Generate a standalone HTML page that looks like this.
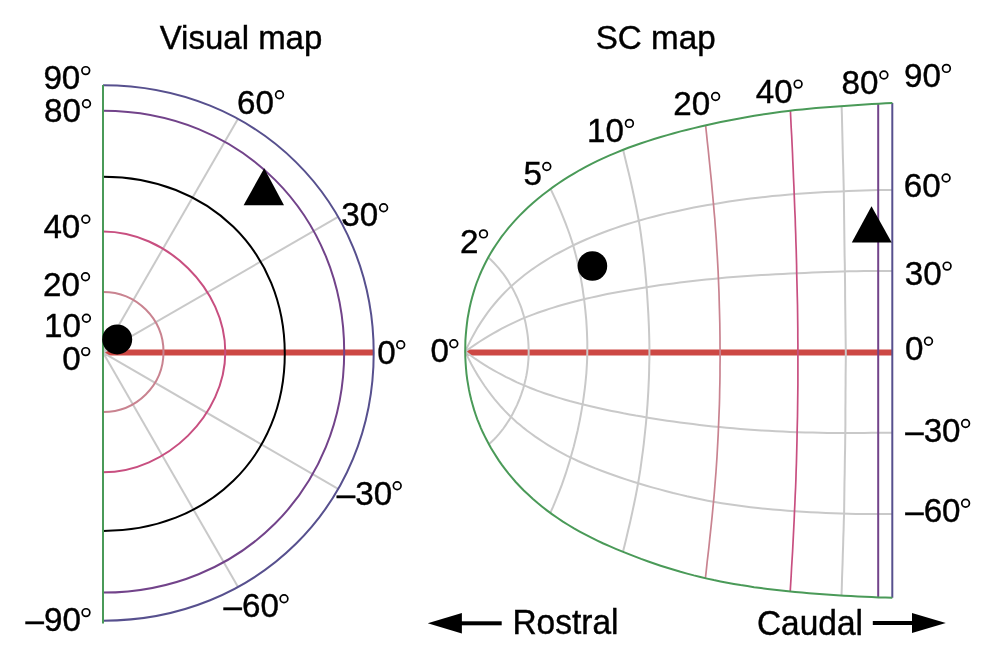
<!DOCTYPE html>
<html><head><meta charset="utf-8"><style>
html,body{margin:0;padding:0;background:#fff;}
svg{display:block;will-change:transform;}
text{font-family:"Liberation Sans",sans-serif;font-size:32px;fill:#000;stroke:#000;stroke-width:0.4px;}
</style></head><body>
<svg width="992" height="656" viewBox="0 0 992 656">
<rect width="992" height="656" fill="#fff"/>
<line x1="103" y1="352.6" x2="373.6" y2="352.6" stroke="#cd4844" stroke-width="6"/>
<line x1="103" y1="352.6" x2="338.1" y2="216.9" stroke="#c9c9c9" stroke-width="2"/>
<line x1="103" y1="352.6" x2="237.9" y2="118.9" stroke="#c9c9c9" stroke-width="2"/>
<line x1="103" y1="352.6" x2="338.1" y2="488.8" stroke="#c9c9c9" stroke-width="2"/>
<line x1="103" y1="352.6" x2="237.9" y2="586.8" stroke="#c9c9c9" stroke-width="2"/>
<path d="M103 292.00 C136.41 292.00 163.50 318.86 163.50 352.00 C163.50 385.14 136.41 412.00 103 412.00" stroke="#c98390" stroke-width="2" fill="none"/>
<path d="M103 231.50 C166.74 231.50 225.30 289.15 225.30 351.90 C225.30 414.65 166.74 472.30 103 472.30" stroke="#c84f80" stroke-width="2" fill="none"/>
<path d="M103 176.70 C208.24 176.70 284.80 251.28 284.80 353.80 C284.80 456.32 208.24 530.90 103 530.90" stroke="#000" stroke-width="2" fill="none"/>
<path d="M103 110.80 C240.22 110.80 344.20 214.65 344.20 351.70 C344.20 488.75 240.22 592.60 103 592.60" stroke="#72438a" stroke-width="2" fill="none"/>
<path d="M103 85.20 C256.60 85.20 373.70 201.03 373.70 352.95 C373.70 504.87 256.60 620.70 103 620.70" stroke="#57508e" stroke-width="2" fill="none"/>
<line x1="103" y1="85" x2="103" y2="623.5" stroke="#4a9a58" stroke-width="2"/>
<circle cx="117.2" cy="339.4" r="15" fill="#000"/>
<path d="M264.2 168.2 L243.6 205.2 L284 205.2 Z" fill="#000"/>
<line x1="465.3" y1="352.4" x2="892.3" y2="352.4" stroke="#cd4844" stroke-width="6"/>
<path d="M465.2 351.6 L470.2 348.0 L475.1 344.6 L479.8 341.5 L484.4 338.6 L488.9 335.9 L493.2 333.3 L497.5 331.0 L501.6 328.7 L505.6 326.6 L509.6 324.7 L513.4 322.8 L517.1 321.1 L520.8 319.4 L524.3 317.9 L527.5 316.6 L530.8 315.4 L534.2 314.1 L537.7 312.8 L541.4 311.5 L545.3 310.2 L549.2 308.9 L553.3 307.6 L557.6 306.3 L561.9 305.0 L566.5 303.7 L571.1 302.5 L575.9 301.2 L580.8 300.0 L585.8 298.8 L591.0 297.6 L596.3 296.4 L601.7 295.3 L607.2 294.1 L612.8 293.0 L618.4 292.0 L624.2 290.9 L630.1 289.9 L636.0 288.9 L642.1 287.9 L648.2 287.0 L654.4 286.0 L660.6 285.1 L666.9 284.3 L673.3 283.4 L679.8 282.6 L686.3 281.8 L692.8 281.0 L699.4 280.3 L706.1 279.6 L712.8 278.9 L719.6 278.2 L726.4 277.6 L733.3 277.1 L740.2 276.6 L747.2 276.1 L754.2 275.6 L761.3 275.1 L768.4 274.7 L775.6 274.3 L782.8 273.9 L790.1 273.5 L797.4 273.2 L804.8 272.9 L812.2 272.5 L819.6 272.3 L827.1 272.0 L834.5 271.7 L842.0 271.5 L849.3 271.3 L856.6 271.2 L863.9 271.1 L871.2 271.0 L878.5 270.9 L892.3 270.9" stroke="#c9c9c9" stroke-width="2" fill="none"/>
<path d="M465.2 351.6 L468.2 345.2 L471.2 339.1 L474.4 333.2 L477.6 327.6 L480.9 322.4 L484.3 317.4 L487.6 312.7 L491.0 308.2 L494.4 304.0 L497.8 300.0 L501.2 296.3 L504.5 292.7 L507.9 289.4 L511.2 286.2 L514.3 283.5 L517.5 280.7 L520.9 277.9 L524.5 275.0 L528.2 272.2 L532.2 269.3 L536.3 266.5 L540.6 263.6 L545.0 260.8 L549.6 258.0 L554.4 255.2 L559.4 252.5 L564.5 249.8 L569.7 247.1 L575.0 244.5 L580.4 242.0 L586.0 239.5 L591.6 237.1 L597.4 234.8 L603.2 232.5 L609.2 230.3 L615.3 228.1 L621.4 226.0 L627.7 224.0 L634.0 222.1 L640.4 220.2 L646.9 218.4 L653.4 216.7 L660.0 215.0 L666.6 213.4 L673.3 211.9 L680.1 210.4 L686.9 209.0 L693.8 207.6 L700.7 206.3 L707.7 205.1 L714.7 203.9 L721.8 202.7 L728.9 201.6 L736.0 200.6 L743.2 199.6 L750.5 198.6 L757.8 197.7 L765.1 196.9 L772.4 196.1 L779.9 195.4 L787.3 194.7 L794.8 194.1 L802.4 193.5 L810.1 193.0 L817.7 192.5 L825.4 192.1 L833.1 191.7 L840.7 191.4 L848.3 191.1 L855.8 190.8 L863.3 190.6 L870.8 190.3 L878.3 190.1 L892.3 190.1" stroke="#c9c9c9" stroke-width="2" fill="none"/>
<path d="M465.2 351.6 L470.3 355.3 L475.1 358.7 L479.9 361.9 L484.5 364.8 L489.0 367.6 L493.3 370.1 L497.6 372.5 L501.7 374.7 L505.7 376.8 L509.6 378.7 L513.3 380.5 L517.0 382.3 L520.6 383.9 L524.1 385.4 L527.2 386.7 L530.4 388.0 L533.7 389.3 L537.1 390.6 L540.7 391.9 L544.4 393.2 L548.3 394.5 L552.3 395.8 L556.4 397.1 L560.7 398.4 L565.1 399.7 L569.7 401.0 L574.4 402.2 L579.3 403.5 L584.3 404.7 L589.5 406.0 L594.9 407.3 L600.4 408.5 L606.0 409.7 L611.7 410.9 L617.6 412.1 L623.5 413.3 L629.6 414.4 L635.7 415.6 L641.9 416.6 L648.1 417.7 L654.4 418.7 L660.7 419.7 L667.1 420.7 L673.5 421.6 L679.9 422.5 L686.4 423.3 L693.0 424.1 L699.6 424.9 L706.2 425.7 L712.9 426.4 L719.7 427.1 L726.5 427.7 L733.4 428.3 L740.4 428.9 L747.4 429.4 L754.4 429.9 L761.5 430.4 L768.7 430.8 L775.9 431.2 L783.1 431.6 L790.4 431.9 L797.8 432.2 L805.2 432.4 L812.6 432.6 L820.1 432.8 L827.5 432.9 L835.0 433.0 L842.4 433.0 L849.7 433.0 L856.9 433.0 L864.2 432.9 L871.4 432.8 L878.6 432.7 L892.3 432.7" stroke="#c9c9c9" stroke-width="2" fill="none"/>
<path d="M465.2 351.6 L468.3 358.1 L471.4 364.2 L474.6 370.1 L477.9 375.6 L481.2 380.8 L484.5 385.8 L487.9 390.5 L491.2 394.9 L494.5 399.1 L497.9 403.1 L501.1 406.8 L504.4 410.4 L507.7 413.7 L510.9 416.9 L513.8 419.6 L516.9 422.4 L520.2 425.1 L523.6 427.9 L527.2 430.7 L531.0 433.5 L534.9 436.4 L539.0 439.2 L543.3 442.0 L547.7 444.8 L552.3 447.6 L557.1 450.4 L562.1 453.1 L567.2 455.8 L572.5 458.4 L578.0 461.0 L583.7 463.5 L589.5 466.0 L595.4 468.4 L601.5 470.7 L607.6 473.0 L613.9 475.3 L620.3 477.5 L626.7 479.6 L633.3 481.7 L639.8 483.7 L646.4 485.7 L653.0 487.6 L659.7 489.4 L666.4 491.2 L673.2 493.0 L680.0 494.6 L686.8 496.3 L693.7 497.8 L700.7 499.3 L707.7 500.7 L714.7 502.0 L721.8 503.2 L729.0 504.3 L736.2 505.3 L743.4 506.3 L750.6 507.2 L758.0 508.0 L765.3 508.8 L772.7 509.5 L780.2 510.1 L787.6 510.7 L795.2 511.3 L802.8 511.8 L810.4 512.2 L818.1 512.6 L825.8 513.0 L833.4 513.3 L841.0 513.5 L848.6 513.7 L856.1 513.9 L863.5 514.0 L870.9 514.0 L878.4 514.1 L892.3 514.1" stroke="#c9c9c9" stroke-width="2" fill="none"/>
<path d="M488.9 444.2 L491.6 441.7 L494.2 439.2 L496.7 436.6 L499.1 433.9 L501.3 431.2 L503.4 428.5 L505.4 425.6 L507.3 422.8 L509.2 419.9 L510.9 416.9 L512.6 413.9 L514.2 410.8 L515.7 407.8 L517.2 404.6 L518.5 401.5 L519.8 398.3 L521.0 395.1 L522.1 391.9 L523.2 388.6 L524.1 385.4 L524.9 382.1 L525.7 378.8 L526.4 375.5 L527.0 372.1 L527.5 368.8 L527.9 365.5 L528.2 362.1 L528.5 358.7 L528.6 355.3 L528.7 351.9 L528.6 348.5 L528.5 345.1 L528.3 341.7 L528.0 338.2 L527.6 334.8 L527.1 331.4 L526.5 328.0 L525.9 324.6 L525.2 321.3 L524.3 317.9 L523.4 314.6 L522.4 311.4 L521.4 308.1 L520.2 304.9 L518.9 301.8 L517.6 298.6 L516.1 295.5 L514.6 292.4 L513.0 289.3 L511.2 286.2 L509.4 283.2 L507.6 280.1 L505.6 277.1 L503.5 274.2 L501.2 271.3 L498.9 268.4 L496.4 265.6 L493.8 262.8 L491.1 260.1 L488.2 257.5" stroke="#c9c9c9" stroke-width="2" fill="none"/>
<path d="M550.3 512.9 L552.9 507.1 L555.3 501.4 L557.6 495.7 L559.8 490.1 L561.9 484.6 L563.8 479.1 L565.7 473.7 L567.4 468.3 L569.1 462.9 L570.7 457.5 L572.2 452.1 L573.7 446.8 L575.0 441.4 L576.3 436.1 L577.6 430.8 L578.7 425.4 L579.8 420.1 L580.8 414.8 L581.7 409.6 L582.6 404.3 L583.4 399.1 L584.1 393.8 L584.8 388.6 L585.4 383.4 L585.9 378.2 L586.4 373.0 L586.7 367.8 L587.0 362.6 L587.2 357.4 L587.3 352.1 L587.3 346.9 L587.3 341.6 L587.1 336.3 L586.9 331.0 L586.6 325.8 L586.3 320.5 L585.8 315.1 L585.3 309.8 L584.7 304.5 L584.1 299.2 L583.3 293.9 L582.6 288.5 L581.7 283.2 L580.8 277.8 L579.7 272.5 L578.6 267.1 L577.4 261.7 L576.1 256.3 L574.7 250.9 L573.2 245.4 L571.5 240.0 L569.7 234.5 L567.7 229.0 L565.6 223.4 L563.4 217.8 L561.1 212.2 L558.7 206.5 L556.1 200.7 L553.4 194.8 L550.6 188.9" stroke="#c9c9c9" stroke-width="2" fill="none"/>
<path d="M623.0 551.8 L624.8 544.6 L626.5 537.5 L628.1 530.5 L629.8 523.6 L631.3 516.7 L632.8 509.9 L634.2 503.2 L635.6 496.5 L636.9 489.8 L638.1 483.2 L639.2 476.6 L640.3 469.9 L641.2 463.3 L642.1 456.7 L643.0 450.2 L643.8 443.6 L644.5 437.0 L645.2 430.5 L645.9 424.0 L646.5 417.4 L647.0 410.9 L647.5 404.4 L647.9 397.9 L648.3 391.4 L648.6 384.9 L648.9 378.4 L649.1 371.9 L649.2 365.4 L649.4 358.9 L649.4 352.4 L649.4 345.9 L649.3 339.4 L649.1 332.9 L648.9 326.4 L648.6 319.9 L648.3 313.4 L647.9 306.8 L647.5 300.3 L647.1 293.8 L646.6 287.2 L646.1 280.6 L645.5 274.1 L644.9 267.5 L644.2 260.8 L643.5 254.2 L642.7 247.6 L641.8 240.9 L640.9 234.2 L639.9 227.4 L638.8 220.7 L637.5 213.9 L636.2 207.1 L634.8 200.2 L633.3 193.2 L631.8 186.2 L630.2 179.1 L628.5 172.0 L626.7 164.7 L624.9 157.3 L623.1 149.8" stroke="#c9c9c9" stroke-width="2" fill="none"/>
<path d="M841.5 595.5 L841.8 587.3 L842.0 579.0 L842.3 570.8 L842.6 562.6 L842.8 554.4 L843.1 546.2 L843.3 538.0 L843.6 529.9 L843.8 521.8 L844.1 513.6 L844.2 505.5 L844.3 497.4 L844.4 489.3 L844.5 481.2 L844.7 473.2 L844.8 465.1 L844.9 457.1 L845.1 449.1 L845.2 441.1 L845.3 433.1 L845.4 425.0 L845.4 417.0 L845.4 408.9 L845.5 400.8 L845.5 392.8 L845.6 384.7 L845.6 376.6 L845.7 368.6 L845.8 360.5 L845.8 352.4 L845.7 344.3 L845.6 336.2 L845.5 328.1 L845.4 319.9 L845.3 311.8 L845.2 303.7 L845.1 295.6 L845.1 287.5 L845.0 279.5 L844.9 271.4 L844.8 263.5 L844.6 255.5 L844.5 247.6 L844.4 239.7 L844.3 231.7 L844.2 223.7 L844.1 215.7 L844.0 207.6 L843.9 199.5 L843.8 191.3 L843.6 183.0 L843.4 174.6 L843.2 166.2 L842.9 157.7 L842.7 149.2 L842.5 140.6 L842.3 132.0 L842.1 123.4 L841.9 114.8 L841.6 106.2" stroke="#c9c9c9" stroke-width="2" fill="none"/>
<path d="M705.4 578.2 L706.3 570.3 L707.1 562.5 L708.0 554.8 L708.9 547.1 L709.7 539.4 L710.5 531.8 L711.3 524.3 L712.1 516.7 L712.8 509.2 L713.5 501.8 L714.2 494.3 L714.8 486.8 L715.4 479.3 L716.0 471.8 L716.5 464.3 L717.0 456.8 L717.4 449.3 L717.8 441.9 L718.2 434.4 L718.5 427.0 L718.8 419.5 L719.1 412.1 L719.4 404.6 L719.6 397.1 L719.7 389.7 L719.9 382.2 L720.0 374.8 L720.0 367.3 L720.1 359.9 L720.1 352.5 L720.0 345.0 L720.0 337.6 L719.9 330.2 L719.8 322.8 L719.6 315.4 L719.4 307.9 L719.2 300.5 L719.0 293.1 L718.7 285.7 L718.4 278.3 L718.1 271.0 L717.7 263.6 L717.3 256.2 L716.8 248.9 L716.4 241.5 L715.9 234.1 L715.3 226.6 L714.8 219.1 L714.1 211.6 L713.5 204.1 L712.8 196.5 L712.1 188.8 L711.4 181.1 L710.6 173.3 L709.8 165.5 L709.0 157.6 L708.2 149.7 L707.3 141.7 L706.5 133.6 L705.6 125.4" stroke="#c98390" stroke-width="1.7" fill="none"/>
<path d="M790.2 591.5 L790.7 583.4 L791.2 575.3 L791.6 567.2 L792.1 559.2 L792.6 551.1 L793.0 543.1 L793.4 535.1 L793.8 527.1 L794.2 519.2 L794.5 511.2 L794.9 503.3 L795.2 495.4 L795.6 487.5 L795.9 479.6 L796.1 471.7 L796.4 463.8 L796.6 455.9 L796.8 448.0 L797.0 440.1 L797.1 432.2 L797.3 424.2 L797.5 416.3 L797.6 408.3 L797.7 400.3 L797.8 392.4 L797.9 384.4 L797.9 376.4 L797.9 368.4 L797.9 360.4 L797.9 352.5 L797.9 344.5 L797.8 336.5 L797.8 328.6 L797.7 320.6 L797.6 312.7 L797.5 304.8 L797.3 296.9 L797.1 289.0 L796.9 281.1 L796.7 273.2 L796.6 265.4 L796.4 257.5 L796.2 249.7 L795.9 241.8 L795.7 234.0 L795.4 226.1 L795.2 218.2 L794.8 210.2 L794.5 202.2 L794.2 194.1 L793.9 186.0 L793.5 177.8 L793.2 169.6 L792.8 161.3 L792.5 153.0 L792.1 144.6 L791.7 136.1 L791.2 127.7 L790.8 119.2 L790.4 110.6" stroke="#c84f80" stroke-width="1.7" fill="none"/>
<line x1="878.2" y1="103.3" x2="878.2" y2="597.7" stroke="#72438a" stroke-width="2"/>
<line x1="892.3" y1="102.9" x2="892.3" y2="597.7" stroke="#57508e" stroke-width="2"/>
<path d="M892.4 103.0 L885.6 103.3 L878.8 103.7 L871.9 104.1 L865.0 104.5 L858.0 105.0 L851.1 105.5 L844.1 106.0 L837.1 106.5 L830.1 107.0 L823.1 107.6 L816.1 108.1 L809.1 108.7 L802.2 109.4 L795.2 110.1 L788.3 110.9 L781.4 111.8 L774.6 112.7 L767.8 113.7 L761.0 114.7 L754.3 115.8 L747.5 117.0 L740.8 118.2 L734.1 119.4 L727.4 120.8 L720.7 122.1 L714.0 123.5 L707.3 125.0 L700.6 126.5 L693.9 128.1 L687.3 129.7 L680.6 131.4 L673.9 133.2 L667.3 135.1 L660.7 137.0 L654.1 139.0 L647.6 141.1 L641.1 143.2 L634.7 145.5 L628.3 147.8 L622.0 150.3 L615.7 152.8 L609.6 155.4 L603.5 158.1 L597.5 160.9 L591.5 163.8 L585.7 166.9 L579.9 170.0 L574.3 173.3 L568.7 176.7 L563.2 180.1 L557.8 183.7 L552.6 187.4 L547.5 191.2 L542.5 195.0 L537.6 199.0 L532.9 203.0 L528.4 207.1 L524.0 211.2 L519.8 215.4 L515.8 219.6 L512.0 223.9 L508.3 228.2 L504.9 232.5 L501.6 236.7 L498.6 241.0 L495.7 245.2 L493.0 249.4 L490.5 253.5 L488.2 257.5 L486.1 261.5 L484.1 265.5 L482.1 269.7 L480.2 274.0 L478.4 278.5 L476.6 283.0 L475.0 287.7 L473.5 292.6 L472.1 297.5 L470.8 302.6 L469.6 307.7 L468.6 313.0 L467.6 318.3 L466.9 323.8 L466.3 329.3 L465.8 334.8 L465.4 340.4 L465.3 346.0 L465.2 351.6 L465.3 357.2 L465.6 362.8 L466.0 368.3 L466.5 373.8 L467.2 379.3 L468.1 384.6 L469.0 389.9 L470.1 395.1 L471.3 400.1 L472.7 405.1 L474.1 409.9 L475.7 414.7 L477.3 419.3 L479.1 423.7 L480.9 428.1 L482.8 432.3 L484.8 436.4 L486.8 440.3 L488.9 444.2 L491.1 448.2 L493.6 452.3 L496.2 456.4 L498.9 460.6 L501.9 464.9 L505.1 469.1 L508.4 473.4 L512.0 477.7 L515.7 482.0 L519.7 486.2 L523.8 490.5 L528.2 494.6 L532.7 498.8 L537.4 502.8 L542.2 506.7 L547.2 510.6 L552.3 514.4 L557.6 518.0 L562.9 521.6 L568.4 525.0 L574.0 528.4 L579.7 531.6 L585.5 534.7 L591.4 537.7 L597.3 540.6 L603.4 543.5 L609.5 546.2 L615.7 548.8 L621.9 551.4 L628.2 553.9 L634.6 556.4 L641.1 558.9 L647.6 561.2 L654.1 563.5 L660.6 565.7 L667.2 567.8 L673.8 569.8 L680.5 571.8 L687.1 573.6 L693.8 575.4 L700.4 577.0 L707.1 578.6 L713.8 580.1 L720.5 581.4 L727.2 582.7 L733.9 583.9 L740.6 585.1 L747.3 586.1 L754.1 587.2 L760.9 588.1 L767.6 589.0 L774.5 589.8 L781.3 590.6 L788.2 591.3 L795.1 592.0 L802.0 592.6 L809.0 593.2 L816.0 593.8 L823.0 594.3 L830.0 594.8 L837.0 595.2 L844.0 595.7 L850.9 596.1 L857.9 596.4 L864.8 596.8 L871.7 597.1 L878.6 597.4 L885.5 597.6 L892.3 597.8" stroke="#4a9a58" stroke-width="2" fill="none"/>
<circle cx="592.4" cy="266" r="14.8" fill="#000"/>
<path d="M871.5 206.2 L851.8 242.5 L891.7 242.5 Z" fill="#000"/>
<path d="M427.7 623.3 L461.9 613 L461.9 633.6 Z" fill="#000"/>
<rect x="460" y="621.3" width="41.7" height="4" fill="#000"/>
<path d="M945.8 623 L912 613 L912 633.1 Z" fill="#000"/>
<rect x="872.8" y="621" width="41" height="4" fill="#000"/>
<text transform="translate(159.7 48.7) scale(1 1.025)" style="font-size:33px">Visual map</text>
<text transform="translate(595.7 49.2) scale(1 1.025)" style="font-size:33.2px">SC map</text>
<text x="43.4" y="89.3" style="font-size:33.2px">90</text>
<circle cx="85.75" cy="70.60" r="3.85" stroke="#000" stroke-width="1.7" fill="none"/>
<text x="44.1" y="122.4" style="font-size:33.2px">80</text>
<circle cx="86.50" cy="103.70" r="3.85" stroke="#000" stroke-width="1.7" fill="none"/>
<text x="43.4" y="238.0" style="font-size:33.2px">40</text>
<circle cx="85.80" cy="219.30" r="3.85" stroke="#000" stroke-width="1.7" fill="none"/>
<text x="43.1" y="295.5" style="font-size:33.2px">20</text>
<circle cx="85.50" cy="276.80" r="3.85" stroke="#000" stroke-width="1.7" fill="none"/>
<text x="44.0" y="337.0" style="font-size:33.2px">10</text>
<circle cx="86.40" cy="318.30" r="3.85" stroke="#000" stroke-width="1.7" fill="none"/>
<text x="62.3" y="370.3" style="font-size:33.2px">0</text>
<circle cx="85.70" cy="351.60" r="3.85" stroke="#000" stroke-width="1.7" fill="none"/>
<text x="25.6" y="631.3" style="font-size:33.2px">–90</text>
<circle cx="86.00" cy="612.60" r="3.85" stroke="#000" stroke-width="1.7" fill="none"/>
<text x="237.1" y="113.5" style="font-size:33.2px">60</text>
<circle cx="279.50" cy="94.80" r="3.85" stroke="#000" stroke-width="1.7" fill="none"/>
<text x="341.2" y="226.4" style="font-size:33.2px">30</text>
<circle cx="383.60" cy="207.70" r="3.85" stroke="#000" stroke-width="1.7" fill="none"/>
<text x="377.3" y="363.5" style="font-size:33.2px">0</text>
<circle cx="400.70" cy="344.80" r="3.85" stroke="#000" stroke-width="1.7" fill="none"/>
<text x="336.8" y="504.5" style="font-size:33.2px">–30</text>
<circle cx="397.20" cy="485.80" r="3.85" stroke="#000" stroke-width="1.7" fill="none"/>
<text x="223.6" y="617.4" style="font-size:33.2px">–60</text>
<circle cx="284.00" cy="598.70" r="3.85" stroke="#000" stroke-width="1.7" fill="none"/>
<text x="430.4" y="362.4" style="font-size:33.2px">0</text>
<circle cx="453.80" cy="343.70" r="3.85" stroke="#000" stroke-width="1.7" fill="none"/>
<text x="460.1" y="252.6" style="font-size:33.2px">2</text>
<circle cx="483.50" cy="233.90" r="3.85" stroke="#000" stroke-width="1.7" fill="none"/>
<text x="523.4" y="185.2" style="font-size:33.2px">5</text>
<circle cx="546.80" cy="166.50" r="3.85" stroke="#000" stroke-width="1.7" fill="none"/>
<text x="587.0" y="142.1" style="font-size:33.2px">10</text>
<circle cx="629.40" cy="123.40" r="3.85" stroke="#000" stroke-width="1.7" fill="none"/>
<text x="673.2" y="115.2" style="font-size:33.2px">20</text>
<circle cx="715.60" cy="96.50" r="3.85" stroke="#000" stroke-width="1.7" fill="none"/>
<text x="755.7" y="102.8" style="font-size:33.2px">40</text>
<circle cx="798.10" cy="84.10" r="3.85" stroke="#000" stroke-width="1.7" fill="none"/>
<text x="841.5" y="93.7" style="font-size:33.2px">80</text>
<circle cx="883.90" cy="75.00" r="3.85" stroke="#000" stroke-width="1.7" fill="none"/>
<text x="904.0" y="87.1" style="font-size:33.2px">90</text>
<circle cx="946.40" cy="68.40" r="3.85" stroke="#000" stroke-width="1.7" fill="none"/>
<text x="903.7" y="196.7" style="font-size:33.2px">60</text>
<circle cx="946.10" cy="178.00" r="3.85" stroke="#000" stroke-width="1.7" fill="none"/>
<text x="904.7" y="284.8" style="font-size:33.2px">30</text>
<circle cx="947.10" cy="266.10" r="3.85" stroke="#000" stroke-width="1.7" fill="none"/>
<text x="905.1" y="360.0" style="font-size:33.2px">0</text>
<circle cx="928.50" cy="341.30" r="3.85" stroke="#000" stroke-width="1.7" fill="none"/>
<text x="905.2" y="442.2" style="font-size:33.2px">–30</text>
<circle cx="965.60" cy="423.50" r="3.85" stroke="#000" stroke-width="1.7" fill="none"/>
<text x="905.2" y="522.0" style="font-size:33.2px">–60</text>
<circle cx="965.60" cy="503.30" r="3.85" stroke="#000" stroke-width="1.7" fill="none"/>
<text transform="translate(512.4 634.4) scale(1 1.025)" style="font-size:33.5px">Rostral</text>
<text transform="translate(756.9 635.2) scale(1 1.025)" style="font-size:33.5px">Caudal</text>
</svg></body></html>
